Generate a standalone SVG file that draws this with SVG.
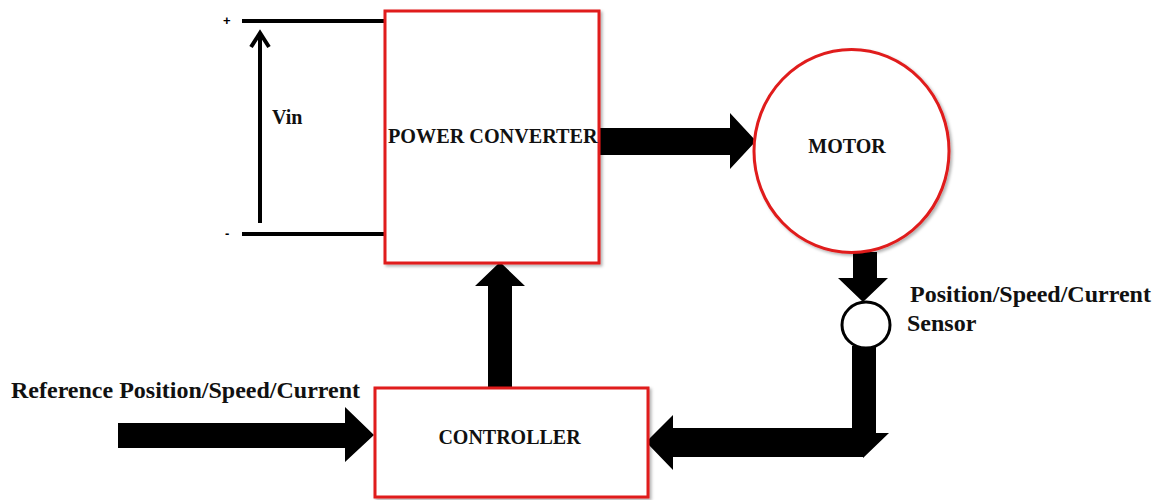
<svg xmlns="http://www.w3.org/2000/svg" width="1168" height="500" viewBox="0 0 1168 500">
<defs>
<style>
.box{fill:#fff;stroke:#e01b1b;stroke-width:3;filter:url(#sh)}
.lbl{font-family:"Liberation Serif","Times New Roman",serif;font-weight:bold;fill:#111}
.blk{fill:#000}
.wire{stroke:#000;stroke-width:4;fill:none}
</style>
<filter id="sh" x="-10%" y="-10%" width="130%" height="130%">
<feDropShadow dx="2" dy="2" stdDeviation="1.5" flood-color="#000" flood-opacity="0.3"/>
</filter>
</defs>
<rect width="1168" height="500" fill="#fff"/>

<g id="connectors">
<line class="wire" x1="242" y1="21" x2="386" y2="21"/>
<line class="wire" x1="242" y1="234" x2="386" y2="234"/>
<line class="wire" x1="260" y1="223" x2="260" y2="34"/>
<polyline class="wire" points="251,47 260,33 269,47"/>
<polygon class="blk" points="597,128 730,128 730,113 756,141 730,169 730,155 597,155"/>
<polygon class="blk" points="853,252 877,252 877,278 888,278 863,302 838,278 853,278"/>
<polygon class="blk" points="488,390 488,286 475,286 500,262 525,286 512,286 512,390"/>
<polygon class="blk" points="118,423 345,423 345,407 374,435 345,462 345,448 118,448"/>
<polygon class="blk" points="852,346 876,346 876,433 889,433 863,458 863,457 673,457 673,470 646,442 673,415 673,428 852,428"/>
</g>

<g id="vin">
<text class="lbl" x="272" y="124" font-size="20">Vin</text>
<text x="223" y="25" font-family="Liberation Sans, Arial, sans-serif" font-weight="bold" font-size="13">+</text>
<text x="225" y="238" font-family="Liberation Sans, Arial, sans-serif" font-weight="bold" font-size="13">-</text>
</g>

<g id="power-converter">
<rect class="box" x="385" y="11" width="214" height="252"/>
<text class="lbl" x="388" y="143" font-size="20.2">POWER CONVERTER</text>
</g>

<g id="motor">
<ellipse class="box" cx="851.5" cy="151" rx="97.5" ry="101.5"/>
<text class="lbl" x="847" y="153" font-size="20" text-anchor="middle">MOTOR</text>
</g>

<g id="sensor">
<ellipse cx="866" cy="325" rx="24" ry="23" fill="#fff" stroke="#000" stroke-width="3"/>
<text class="lbl" x="910" y="302" font-size="24">Position/Speed/Current</text>
<text class="lbl" x="907" y="331" font-size="24">Sensor</text>
</g>

<g id="controller">
<rect class="box" x="375" y="388" width="273" height="109"/>
<text class="lbl" x="509.5" y="444" font-size="20" text-anchor="middle">CONTROLLER</text>
</g>

<g id="reference">
<text class="lbl" x="11" y="398" font-size="24">Reference Position/Speed/Current</text>
</g>
</svg>
